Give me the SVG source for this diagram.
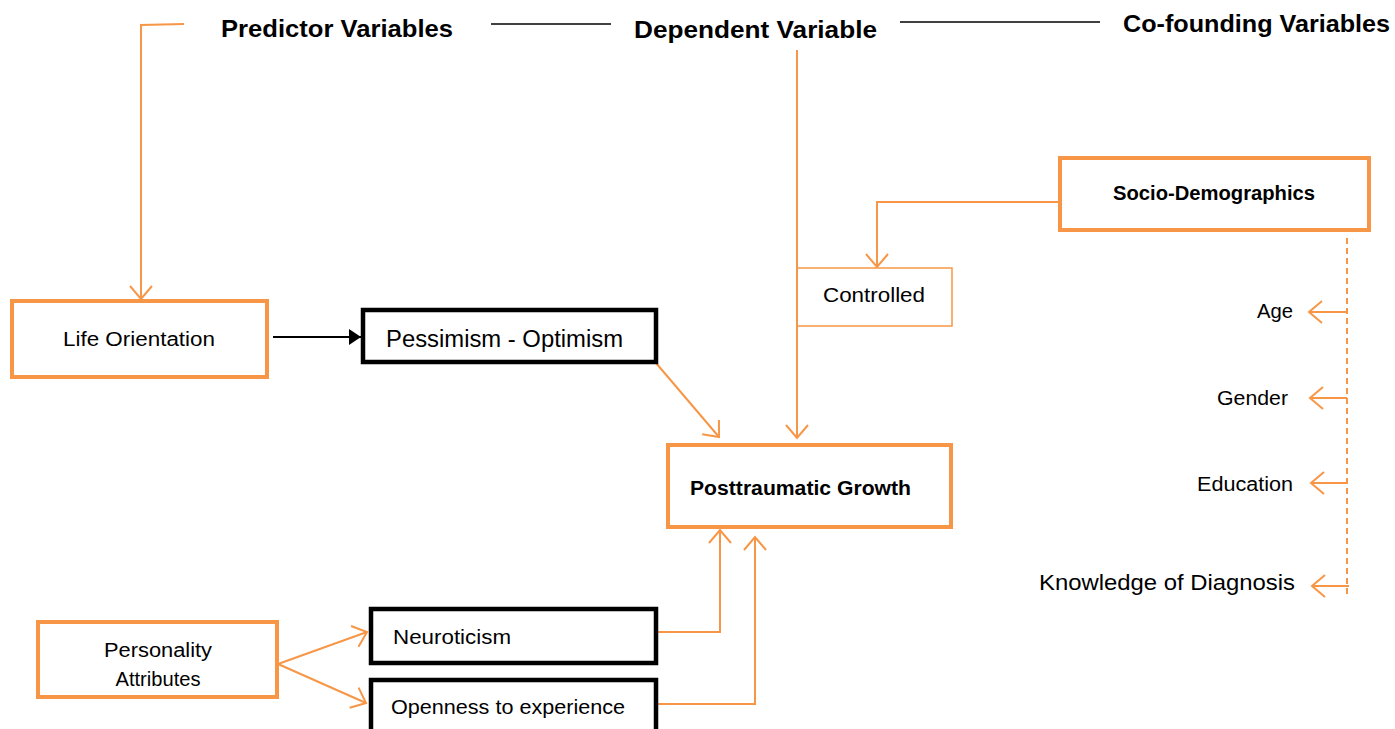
<svg xmlns="http://www.w3.org/2000/svg" width="1395" height="729" viewBox="0 0 1395 729">
<defs>
<style>
.o{fill:none;stroke:#F79646;stroke-width:2}
.ob{fill:#fff;stroke:#F79646;stroke-width:4}
.bb{fill:#fff;stroke:#000;stroke-width:4.5}
.t{font-family:"Liberation Sans",Arial,sans-serif;fill:#000}
.h{font-family:"Liberation Sans",Arial,sans-serif;font-weight:bold;fill:#000;font-size:24px}
</style>
<marker id="oa" markerUnits="userSpaceOnUse" markerWidth="30" markerHeight="30" refX="14" refY="12" orient="auto">
<path d="M1,1 L14,12 L1,23" fill="none" stroke="#F79646" stroke-width="2"/>
</marker>
<marker id="ba" markerUnits="userSpaceOnUse" markerWidth="20" markerHeight="20" refX="12" refY="8" orient="auto">
<path d="M0,0 L12,8 L0,16 Z" fill="#000"/>
</marker>
</defs>
<g id="headers">
<text class="h" x="221" y="37" textLength="232" lengthAdjust="spacingAndGlyphs">Predictor Variables</text>
<text class="h" x="634" y="38" textLength="243" lengthAdjust="spacingAndGlyphs">Dependent Variable</text>
<text class="h" x="1123" y="32" textLength="267" lengthAdjust="spacingAndGlyphs">Co-founding Variables</text>
</g>
<g id="connectors">
<line x1="491" y1="24" x2="611" y2="24" stroke="#000" stroke-width="1.5"/>
<line x1="900" y1="22" x2="1100" y2="22" stroke="#000" stroke-width="1.5"/>
<path class="o" d="M184,24 L141,25 L141,299" marker-end="url(#oa)"/>
<line class="o" x1="797" y1="50" x2="797" y2="438" marker-end="url(#oa)"/>
<line x1="273" y1="337" x2="361" y2="337" stroke="#000" stroke-width="2" marker-end="url(#ba)"/>
<line class="o" x1="656" y1="363" x2="719" y2="437" marker-end="url(#oa)"/>
<path class="o" d="M1059,202 L877,202 L877,267" marker-end="url(#oa)"/>
<line class="o" x1="1347" y1="238" x2="1347" y2="597" stroke-dasharray="6,4"/>
<line class="o" x1="1347" y1="312" x2="1309" y2="312" marker-end="url(#oa)"/>
<line class="o" x1="1347" y1="398" x2="1310" y2="398" marker-end="url(#oa)"/>
<line class="o" x1="1347" y1="483" x2="1311" y2="483" marker-end="url(#oa)"/>
<line class="o" x1="1349" y1="586" x2="1312" y2="586" marker-end="url(#oa)"/>
<line class="o" x1="278" y1="664" x2="367" y2="632" marker-end="url(#oa)"/>
<line class="o" x1="278" y1="664" x2="366" y2="703" marker-end="url(#oa)"/>
<path class="o" d="M656,632 L720,632 L720,530" marker-end="url(#oa)"/>
<path class="o" d="M656,704 L755,704 L755,537" marker-end="url(#oa)"/>
</g>
<g id="life-orientation">
<rect class="ob" x="12" y="301" width="255" height="76"/>
<text class="t" x="139" y="346" font-size="20" text-anchor="middle" textLength="152" lengthAdjust="spacingAndGlyphs">Life Orientation</text>
</g>
<g id="pessimism-optimism">
<rect class="bb" x="363" y="310" width="293" height="52"/>
<text class="t" x="386" y="347" font-size="23" textLength="237" lengthAdjust="spacingAndGlyphs">Pessimism - Optimism</text>
</g>
<g id="controlled">
<rect x="797" y="268" width="155" height="58" fill="#fff" stroke="#F79646" stroke-width="1.5"/>
<line class="o" x1="797" y1="268" x2="797" y2="326"/>
<text class="t" x="874" y="302" font-size="20" text-anchor="middle" textLength="102" lengthAdjust="spacingAndGlyphs">Controlled</text>
</g>
<g id="socio-demographics">
<rect class="ob" x="1060" y="158" width="309" height="72"/>
<text class="t" x="1113" y="200" font-size="20" font-weight="bold" textLength="202" lengthAdjust="spacingAndGlyphs">Socio-Demographics</text>
</g>
<g id="posttraumatic-growth">
<rect class="ob" x="668" y="445" width="283" height="82"/>
<text class="t" x="690" y="495" font-size="20" font-weight="bold" textLength="221" lengthAdjust="spacingAndGlyphs">Posttraumatic Growth</text>
</g>
<g id="age"><text class="t" x="1293" y="318" font-size="20" text-anchor="end" textLength="36" lengthAdjust="spacingAndGlyphs">Age</text></g>
<g id="gender"><text class="t" x="1288" y="405" font-size="20" text-anchor="end" textLength="71" lengthAdjust="spacingAndGlyphs">Gender</text></g>
<g id="education"><text class="t" x="1293" y="491" font-size="20" text-anchor="end" textLength="96" lengthAdjust="spacingAndGlyphs">Education</text></g>
<g id="knowledge"><text class="t" x="1295" y="590" font-size="22" text-anchor="end" textLength="256" lengthAdjust="spacingAndGlyphs">Knowledge of Diagnosis</text></g>
<g id="personality-attributes">
<rect class="ob" x="38" y="622" width="239" height="75"/>
<text class="t" x="158" y="657" font-size="20" text-anchor="middle" textLength="108" lengthAdjust="spacingAndGlyphs">Personality</text>
<text class="t" x="158" y="686" font-size="20" text-anchor="middle" textLength="85" lengthAdjust="spacingAndGlyphs">Attributes</text>
</g>
<g id="neuroticism">
<rect class="bb" x="371" y="609" width="285" height="54"/>
<text class="t" x="393" y="644" font-size="20" textLength="118" lengthAdjust="spacingAndGlyphs">Neuroticism</text>
</g>
<g id="openness">
<rect class="bb" x="371" y="680" width="285" height="60"/>
<text class="t" x="391" y="714" font-size="20" textLength="234" lengthAdjust="spacingAndGlyphs">Openness to experience</text>
</g>
</svg>
